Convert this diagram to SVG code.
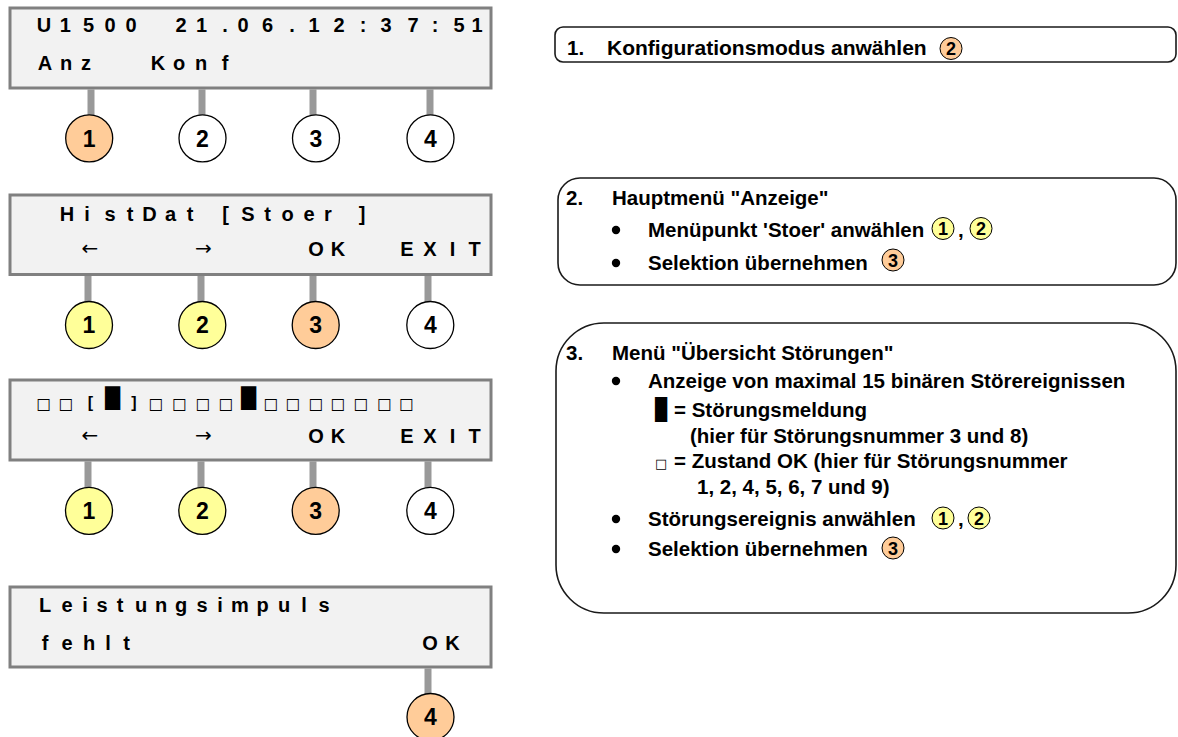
<svg xmlns="http://www.w3.org/2000/svg" width="1178" height="737" viewBox="0 0 1178 737">
<style>
.lcd{fill:#f2f2f2;stroke:#808080;stroke-width:3}
.stem{stroke:#999;stroke-width:7}
.key{stroke:#000;stroke-width:1.3}
.ck{stroke:#000;stroke-width:1}
.o{fill:#ffcc99}.y{fill:#ffff99}.w{fill:#fff}
.t{font-family:"Liberation Sans",Arial,sans-serif;font-weight:bold;font-size:20px;text-anchor:middle;fill:#000}
.ar{font-family:"DejaVu Sans",sans-serif;font-size:20px;text-anchor:middle;fill:#000}
.sq{font-family:"DejaVu Sans",sans-serif;font-size:15.5px;text-anchor:middle;fill:#000}
.blk{font-family:"DejaVu Sans",sans-serif;font-size:20px;fill:#000}
.kn{font-family:"Liberation Sans",Arial,sans-serif;font-weight:bold;font-size:23px;text-anchor:middle;fill:#000}
.panel{fill:#fff;stroke:#1a1a1a;stroke-width:1.6}
.p{font-family:"Liberation Sans",Arial,sans-serif;font-weight:bold;font-size:20.5px;fill:#000}
.cn{font-family:"Liberation Sans",Arial,sans-serif;font-weight:bold;font-size:18px;text-anchor:middle;fill:#000}
</style>

<g id="connectors">
  <line class="stem" x1="91" y1="89.5" x2="91" y2="115"/>
  <line class="stem" x1="202" y1="89.5" x2="202" y2="115"/>
  <line class="stem" x1="313" y1="89.5" x2="313" y2="115"/>
  <line class="stem" x1="430" y1="89.5" x2="430" y2="115"/>
  <line class="stem" x1="88" y1="276" x2="88" y2="302"/>
  <line class="stem" x1="201" y1="276" x2="201" y2="302"/>
  <line class="stem" x1="313" y1="276" x2="313" y2="302"/>
  <line class="stem" x1="428" y1="276" x2="428" y2="302"/>
  <line class="stem" x1="88" y1="461.5" x2="88" y2="487.5"/>
  <line class="stem" x1="201" y1="461.5" x2="201" y2="487.5"/>
  <line class="stem" x1="313" y1="461.5" x2="313" y2="487.5"/>
  <line class="stem" x1="428" y1="461.5" x2="428" y2="487.5"/>
  <line class="stem" x1="428" y1="668.5" x2="428" y2="694"/>
</g>

<g id="display1">
  <rect class="lcd" x="10" y="8" width="481" height="80"/>
  <text class="t" y="32" x="44 65.3 88.5 110 131 156 181 201.5 225 243 267.5 292 314 339 363 386 413 435 459 477">U1500 21.06.12:37:51</text>
  <text class="t" y="70" x="45 66 86 120 158 179 201 225">Anz Konf</text>
</g>
<g id="keys1">
  <circle class="key o" cx="89.2" cy="138.3" r="23.5"/><text class="kn" x="89.2" y="146.6">1</text>
  <circle class="key w" cx="202.5" cy="138.3" r="23.5"/><text class="kn" x="202.5" y="146.6">2</text>
  <circle class="key w" cx="316" cy="138.3" r="23.5"/><text class="kn" x="316" y="146.6">3</text>
  <circle class="key w" cx="430.5" cy="138.3" r="23.5"/><text class="kn" x="430.5" y="146.6">4</text>
</g>

<g id="display2">
  <rect class="lcd" x="10" y="195" width="481" height="79.5"/>
  <text class="t" y="221" x="67 87 110 130 149.5 170.5 190 225.5 248 267.5 287.5 309 328 362">HistDat[Stoer]</text>
  <text class="ar" y="255" x="90 203.5">←→</text>
  <text class="t" y="256" x="316 338">OK</text>
  <text class="t" y="256" x="407 430 452.5 474.5">EXIT</text>
</g>
<g id="keys2">
  <circle class="key y" cx="89" cy="325" r="23.5"/><text class="kn" x="89" y="333.3">1</text>
  <circle class="key y" cx="202.3" cy="325" r="23.5"/><text class="kn" x="202.3" y="333.3">2</text>
  <circle class="key o" cx="315.7" cy="325" r="23.5"/><text class="kn" x="315.7" y="333.3">3</text>
  <circle class="key w" cx="430.3" cy="325" r="23.5"/><text class="kn" x="430.3" y="333.3">4</text>
</g>

<g id="display3">
  <rect class="lcd" x="10" y="380" width="481" height="80"/>
  <text class="sq" y="409" x="43.8 66">□□</text>
  <text class="t" y="408" x="90.5" style="font-size:16px">[</text>
  <text class="blk" y="404.5" x="105" textLength="15" lengthAdjust="spacingAndGlyphs">█</text>
  <text class="t" y="408" x="134" style="font-size:16px">]</text>
  <text class="sq" y="409" x="156 179.5 203 226">□□□□</text>
  <text class="blk" y="404.5" x="241" textLength="15" lengthAdjust="spacingAndGlyphs">█</text>
  <text class="sq" y="409" x="271 293 316 338 361 384.5 406.5">□□□□□□□</text>
  <text class="ar" y="442" x="90 203.5">←→</text>
  <text class="t" y="443" x="316 338">OK</text>
  <text class="t" y="443" x="407 430 452.5 474.5">EXIT</text>
</g>
<g id="keys3">
  <circle class="key y" cx="89" cy="510.8" r="23.5"/><text class="kn" x="89" y="519.1">1</text>
  <circle class="key y" cx="202.3" cy="510.8" r="23.5"/><text class="kn" x="202.3" y="519.1">2</text>
  <circle class="key o" cx="315.7" cy="510.8" r="23.5"/><text class="kn" x="315.7" y="519.1">3</text>
  <circle class="key w" cx="430.3" cy="510.8" r="23.5"/><text class="kn" x="430.3" y="519.1">4</text>
</g>

<g id="display4">
  <rect class="lcd" x="10" y="587" width="481" height="80"/>
  <text class="t" y="612" x="45 67 85 102 120 141 161 181 202 220 240 262.5 284 304 324">Leistungsimpuls</text>
  <text class="t" y="649.5" x="45 67 89 108 126.5">fehlt</text>
  <text class="t" y="649.5" x="430 452.5">OK</text>
</g>
<g id="keys4">
  <circle class="key o" cx="430.5" cy="717" r="23.5"/><text class="kn" x="430.5" y="725.3">4</text>
</g>

<g id="step1">
  <rect class="panel" x="555" y="27" width="621" height="35" rx="8"/>
  <text class="p" x="567" y="55">1.</text>
  <text class="p" x="607" y="55" style="font-size:21px">Konfigurationsmodus anwählen</text>
  <circle class="ck o" cx="951" cy="48.5" r="11"/><text class="cn" x="951" y="55">2</text>
</g>

<g id="step2">
  <rect class="panel" x="558" y="178" width="618" height="107" rx="22"/>
  <text class="p" x="566" y="205">2.</text>
  <text class="p" x="612" y="205">Hauptmenü "Anzeige"</text>
  <circle cx="616" cy="230" r="4.2"/>
  <text class="p" x="648" y="237">Menüpunkt 'Stoer' anwählen</text>
  <circle class="ck y" cx="943" cy="228.5" r="11"/><text class="cn" x="943" y="235">1</text>
  <text class="p" x="958" y="237">,</text>
  <circle class="ck y" cx="981" cy="228.5" r="11"/><text class="cn" x="981" y="235">2</text>
  <circle cx="616" cy="263" r="4.2"/>
  <text class="p" x="648" y="270">Selektion übernehmen</text>
  <circle class="ck o" cx="893" cy="260" r="11"/><text class="cn" x="893" y="266.5">3</text>
</g>

<g id="step3">
  <rect class="panel" x="556" y="323" width="620" height="290" rx="48"/>
  <text class="p" x="566" y="360">3.</text>
  <text class="p" x="612" y="360">Menü "Übersicht Störungen"</text>
  <circle cx="616" cy="381" r="4.2"/>
  <text class="p" x="648" y="388">Anzeige von maximal 15 binären Störereignissen</text>
  <text class="p" x="655" y="417"><tspan class="blk" style="font-size:21px" textLength="12" lengthAdjust="spacingAndGlyphs">█</tspan><tspan x="674">= Störungsmeldung</tspan></text>
  <text class="p" x="690" y="443">(hier für Störungsnummer 3 und 8)</text>
  <text class="p" x="655" y="467.5"><tspan class="blk" style="font-size:13px">□</tspan><tspan x="674">= Zustand OK (hier für Störungsnummer</tspan></text>
  <text class="p" x="697" y="494">1, 2, 4, 5, 6, 7 und 9)</text>
  <circle cx="616" cy="519" r="4.2"/>
  <text class="p" x="648" y="526">Störungsereignis anwählen</text>
  <circle class="ck y" cx="943" cy="518" r="11"/><text class="cn" x="943" y="524.5">1</text>
  <text class="p" x="958" y="526">,</text>
  <circle class="ck y" cx="979" cy="518" r="11"/><text class="cn" x="979" y="524.5">2</text>
  <circle cx="616" cy="549" r="4.2"/>
  <text class="p" x="648" y="556">Selektion übernehmen</text>
  <circle class="ck o" cx="893" cy="548" r="11"/><text class="cn" x="893" y="554.5">3</text>
</g>
</svg>
